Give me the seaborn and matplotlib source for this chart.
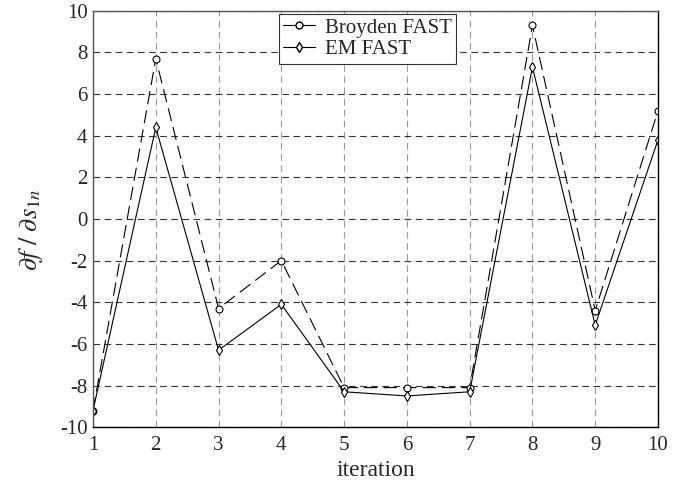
import matplotlib
matplotlib.use("Agg")
import matplotlib.pyplot as plt
import seaborn as sns
import pandas as pd
from matplotlib.lines import Line2D

iterations = [1, 2, 3, 4, 5, 6, 7, 8, 9, 10]
broyden = [-9.2, 7.7, -4.3, -2.0, -8.1, -8.1, -8.1, 9.3, -4.4, 5.2]
em = [-9.2, 4.4, -6.3, -4.1, -8.3, -8.5, -8.3, 7.3, -5.1, 3.8]
series_names = ["Broyden FAST", "EM FAST"]
yticks = [-10, -8, -6, -4, -2, 0, 2, 4, 6, 8, 10]

sns.set_theme(style="white")
plt.rcParams['font.family'] = ['Liberation Serif', 'DejaVu Serif']
plt.rcParams['mathtext.fontset'] = 'stix'
plt.rcParams['axes.unicode_minus'] = False

df = pd.DataFrame({
    "iteration": iterations * 2,
    "value": broyden + em,
    "series": [series_names[0]] * len(iterations) + [series_names[1]] * len(iterations),
})

fig, ax = plt.subplots(figsize=(6.89, 4.91), dpi=100)
fig.subplots_adjust(left=0.135, right=0.955, top=0.978, bottom=0.130)

sns.lineplot(data=df[df.series == series_names[0]], x="iteration", y="value", ax=ax,
             color="black", lw=0.8, marker="o", markersize=5, markerfacecolor="white",
             markeredgecolor="black", markeredgewidth=0.8, dashes=False, legend=False)
ax.lines[-1].set_dashes([12, 5.5])
sns.lineplot(data=df[df.series == series_names[1]], x="iteration", y="value", ax=ax,
             color="black", lw=0.8, marker="d", markersize=5, markerfacecolor="white",
             markeredgecolor="black", markeredgewidth=0.8, legend=False)

ax.set_xlim(1, 10)
ax.set_ylim(-10, 10)
ax.set_xticks(iterations)
ax.set_yticks(yticks)
ax.set_yticklabels([str(t) for t in yticks])
ax.tick_params(axis="both", labelsize=15, length=0, pad=4)
ax.tick_params(axis="x", pad=6)

ax.grid(axis="x", color="#9a9a9a", linestyle=(0, (6, 4)), lw=0.8)
ax.grid(axis="y", color="#333333", linestyle=(0, (6, 4)), lw=0.8)
ax.set_axisbelow(True)
for s in ax.spines.values():
    s.set_color("#555555")
    s.set_linewidth(1.0)
ax.spines["right"].set_color("black")
ax.spines["bottom"].set_color("black")

ax.set_xlabel("iteration", fontsize=17, labelpad=4)
ax.set_ylabel(r"$\partial f\ /\ \partial s_{1n}$", fontsize=19)
ax.yaxis.set_label_coords(-0.085, 0.474)

handles = [
    Line2D([], [], color="black", lw=0.8, marker="o", markersize=5,
           markerfacecolor="white", markeredgecolor="black"),
    Line2D([], [], color="black", lw=0.8, marker="d", markersize=5,
           markerfacecolor="white", markeredgecolor="black"),
]
leg = ax.legend(handles, series_names, loc="upper center", bbox_to_anchor=(0.486, 1.0),
                fontsize=15, frameon=True, fancybox=False, edgecolor="#333333",
                framealpha=1, borderpad=0.2, handlelength=1.5, handletextpad=0.5,
                labelspacing=0.1, borderaxespad=0.15)
leg.get_frame().set_linewidth(0.8)

fig.savefig("out.png", dpi=100)
